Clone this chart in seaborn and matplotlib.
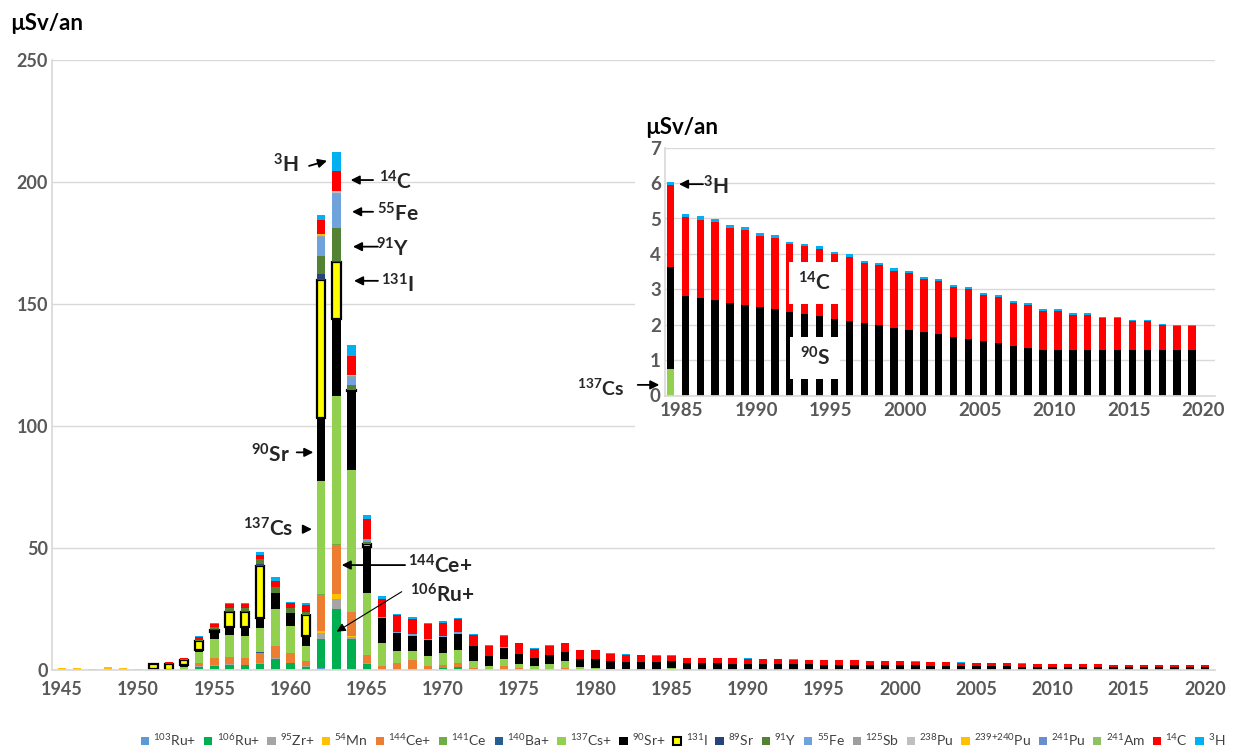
import numpy as np
import matplotlib
matplotlib.use("Agg")
import matplotlib.pyplot as plt
import matplotlib.transforms as mtransforms
from matplotlib.patches import Patch, Rectangle
import seaborn as sns

# years shown on the main chart
years = list(range(1945, 2021))

# dose by nuclide (µSv/an)
# short lists cover 1945-1984 only (nothing visible afterwards)
ru103 = [0, 0, 0, 0, 0, 0, 0, 0, 0, 0,
         0, 0, 0, 0, 0, 0, 0, 0.8, 0.5, 0.3,
         0.1, 0, 0, 0, 0, 0, 0, 0, 0, 0,
         0, 0, 0, 0, 0, 0, 0, 0, 0, 0]
ru106 = [0, 0, 0, 0, 0, 0, 0, 0, 0.1, 1.4,
         1.8, 2.2, 2.0, 2.5, 4.6, 2.8, 1.3, 12.0, 24.6, 12.5,
         2.2, 0.5, 0.5, 0.5, 0.4, 0.9, 1.1, 0.2, 0.1, 0.6,
         0.2, 0, 0, 0.2, 0, 0, 0, 0, 0, 0]
zr95 = [0.4, 0.4, 0.3, 0.5, 0.3, 0.2, 0.2, 0, 0, 0.1,
        0.2, 0.2, 0.2, 0.3, 0.3, 0.2, 0.2, 2.4, 4.1, 0.9,
        0.4, 0, 0, 0, 0, 0, 0, 0, 0, 0,
        0, 0, 0, 0, 0, 0, 0, 0, 0, 0]
mn54 = [0.3, 0.3, 0.2, 0.4, 0.3, 0.2, 0, 0, 0, 0,
        0, 0, 0, 0.1, 0.1, 0, 0, 0.7, 1.8, 0.4,
        0.2, 0, 0, 0, 0, 0, 0.1, 0.1, 0, 0,
        0, 0, 0, 0, 0, 0, 0, 0, 0, 0]
ce144 = [0, 0, 0, 0, 0, 0, 0.2, 0, 0.4, 1.4,
         2.8, 3.0, 2.8, 4.1, 4.7, 4.1, 2.3, 14.7, 20.1, 9.6,
         3.1, 1.3, 2.4, 3.4, 1.4, 1.3, 1.8, 0.5, 0.2, 1.2,
         0.8, 0.3, 0.5, 0.8, 0.2, 0.1, 0, 0, 0, 0]
ce141 = [0, 0, 0, 0, 0, 0, 0, 0, 0, 0,
         0, 0, 0, 0.1, 0, 0, 0, 0.4, 0.4, 0.1,
         0, 0, 0, 0, 0, 0, 0, 0, 0, 0,
         0, 0, 0, 0, 0, 0, 0, 0, 0, 0]
ba140 = [0, 0, 0, 0, 0, 0, 0, 0, 0, 0,
         0, 0, 0, 0.3, 0, 0, 0, 0.3, 0.3, 0.1,
         0, 0, 0, 0, 0, 0, 0, 0, 0, 0,
         0, 0, 0, 0, 0, 0, 0, 0, 0, 0]
# 137Cs runs to 1985
cs137 = [0, 0, 0, 0, 0, 0, 0, 0.2, 0.8, 4.5,
         7.9, 8.9, 8.9, 10.0, 15.5, 10.9, 6.0, 46.1, 60.6, 58.1,
         25.6, 9.2, 4.8, 3.8, 3.8, 4.7, 5.1, 2.9, 1.2, 2.7,
         1.5, 1.2, 1.8, 2.5, 1.0, 0.7, 0.5, 0.3, 0.2, 0.2,
         0.74]
sr90 = [0, 0, 0, 0, 0, 0, 0, 0, 0.6, 1.0,
        2.9, 3.5, 3.6, 4.1, 6.2, 5.5, 4.1, 25.8, 31.6, 32.3,
        18.9, 10.4, 7.4, 6.4, 6.5, 6.5, 6.8, 6.0, 4.1, 4.5,
        4.2, 3.5, 3.8, 3.8, 3.4, 3.6, 3.0, 3.0, 2.9, 2.9,
        2.90, 2.80, 2.75, 2.69, 2.62, 2.56, 2.50, 2.44, 2.37, 2.31,
        2.24, 2.17, 2.11, 2.04, 1.98, 1.91, 1.86, 1.79, 1.73, 1.66,
        1.61, 1.54, 1.47, 1.41, 1.34, 1.28, 1.28, 1.28, 1.28, 1.28,
        1.28, 1.28, 1.28, 1.28, 1.28, 1.28]
i131 = [0, 0, 0, 0, 0, 0, 2.2, 2.2, 2.4, 3.6,
        0.8, 6.1, 6.4, 21.2, 0, 0, 8.7, 56.8, 23.3, 0.3,
        1.1, 0, 0, 0, 0, 0, 0, 0, 0, 0,
        0, 0, 0, 0, 0, 0, 0, 0, 0, 0]
sr89 = [0, 0, 0, 0, 0, 0, 0, 0, 0, 0,
        0.2, 0.3, 0.3, 0.6, 0, 0, 0, 2.1, 0.3, 0.1,
        0, 0, 0, 0, 0, 0, 0, 0, 0, 0,
        0, 0, 0, 0, 0, 0, 0, 0, 0, 0]
y91 = [0, 0, 0, 0, 0, 0, 0, 0, 0.3, 0.4,
       1.1, 1.4, 1.4, 2.2, 2.7, 1.8, 1.3, 7.5, 13.7, 2.1,
       1.0, 0, 0, 0, 0, 0, 0, 0, 0, 0,
       0, 0, 0, 0, 0, 0, 0, 0, 0, 0]
fe55 = [0, 0, 0, 0, 0, 0, 0, 0, 0, 0,
        0, 0, 0, 0, 0, 0, 0, 8.0, 13.7, 3.2,
        1.0, 0.3, 0.3, 0.5, 0.5, 0.5, 0.7, 0, 0, 0.3,
        0, 0, 0, 0.1, 0, 0, 0, 0, 0, 0]
sb125 = [0, 0, 0, 0, 0, 0, 0, 0, 0, 0,
         0, 0, 0, 0, 0, 0, 0, 0.3, 0.5, 0.3,
         0.2, 0, 0, 0, 0, 0, 0, 0, 0, 0,
         0, 0, 0, 0, 0, 0, 0, 0, 0, 0]
pu238 = [0, 0, 0, 0, 0, 0, 0, 0, 0, 0,
         0, 0, 0, 0, 0, 0, 0, 0.1, 0.2, 0.1,
         0, 0, 0, 0, 0, 0, 0, 0, 0, 0,
         0, 0, 0, 0, 0, 0, 0, 0, 0, 0]
pu239 = [0.2, 0.1, 0.1, 0.3, 0.1, 0.1, 0, 0, 0, 0,
         0, 0, 0, 0, 0, 0, 0, 0.5, 0.6, 0.4,
         0, 0, 0, 0, 0, 0, 0, 0.2, 0, 0,
         0, 0, 0, 0, 0, 0, 0, 0, 0, 0]
pu241 = [0, 0, 0, 0, 0, 0, 0, 0, 0, 0,
         0, 0, 0, 0, 0, 0, 0, 0, 0.1, 0.1,
         0, 0, 0, 0, 0, 0, 0, 0, 0, 0,
         0, 0, 0, 0, 0, 0, 0, 0, 0, 0]
am241 = [0, 0, 0, 0, 0, 0, 0, 0, 0, 0,
         0, 0, 0, 0, 0, 0, 0, 0, 0.1, 0,
         0, 0, 0, 0, 0, 0, 0, 0, 0, 0,
         0, 0, 0, 0, 0, 0, 0, 0, 0, 0]
c14 = [0, 0, 0, 0, 0, 0, 0, 0.8, 0.5, 1.0,
       1.2, 1.4, 1.4, 1.6, 2.5, 2.1, 2.8, 5.8, 8.0, 7.6,
       7.9, 7.2, 7.0, 6.4, 6.1, 5.5, 5.2, 4.5, 4.1, 4.6,
       4.2, 3.8, 3.9, 3.5, 3.5, 3.7, 3.2, 3.0, 3.0, 2.7,
       2.30, 2.23, 2.22, 2.20, 2.11, 2.11, 2.00, 2.00, 1.90, 1.91,
       1.90, 1.82, 1.81, 1.71, 1.71, 1.62, 1.60, 1.50, 1.50, 1.41,
       1.40, 1.31, 1.31, 1.21, 1.22, 1.12, 1.12, 1.00, 1.00, 0.90,
       0.90, 0.82, 0.82, 0.70, 0.68, 0.68]
h3 = [0, 0, 0, 0, 0, 0, 0, 0, 0, 0.5,
      0.3, 0.4, 0.4, 1.4, 1.6, 0.4, 0.7, 2.1, 7.8, 4.5,
      1.8, 1.4, 0.7, 0.7, 0.6, 0.5, 0.7, 0.3, 0.6, 0.3,
      0.3, 0.3, 0.3, 0.2, 0.2, 0.2, 0.2, 0.2, 0.2, 0.15,
      0.09, 0.09, 0.09, 0.10, 0.10, 0.09, 0.09, 0.08, 0.08, 0.07,
      0.07, 0.07, 0.07, 0.06, 0.06, 0.06, 0.06, 0.06, 0.06, 0.05,
      0.05, 0.05, 0.05, 0.05, 0.05, 0.04, 0.04, 0.04, 0.04, 0.04,
      0.04, 0.04, 0.04, 0.04, 0.04, 0.04]

labels = [r"$^{103}$Ru+", r"$^{106}$Ru+", r"$^{95}$Zr+", r"$^{54}$Mn", r"$^{144}$Ce+",
          r"$^{141}$Ce", r"$^{140}$Ba+", r"$^{137}$Cs+", r"$^{90}$Sr+", r"$^{131}$I",
          r"$^{89}$Sr", r"$^{91}$Y", r"$^{55}$Fe", r"$^{125}$Sb", r"$^{238}$Pu",
          r"$^{239{+}240}$Pu", r"$^{241}$Pu", r"$^{241}$Am", r"$^{14}$C", r"$^{3}$H"]
colors = ["#5B9BD5", "#00B050", "#A5A5A5", "#FFC000", "#ED7D31",
          "#70AD47", "#255E91", "#92D050", "#000000", "#FFFF00",
          "#264478", "#548235", "#70A3DC", "#9E9E9E", "#BFBFBF",
          "#FFC000", "#698ED0", "#8CC168", "#FF0000", "#00B0F0"]
values = [ru103, ru106, zr95, mn54, ce144, ce141, ba140, cs137, sr90, i131,
          sr89, y91, fe55, sb125, pu238, pu239, pu241, am241, c14, h3]

sns.set_theme(style="white")
plt.rcParams["font.family"] = ["Lato", "DejaVu Sans"]
plt.rcParams["mathtext.default"] = "regular"
GREY = "#595959"
GRID = "#D9D9D9"


def draw_stack(ax, start, width):
    base = np.zeros(len(years))
    for lab, vals, col in zip(labels, values, colors):
        vals = np.asarray(vals, dtype=float)
        n = len(vals)
        if n <= start:
            continue
        h = vals[start:n]
        if lab == r"$^{131}$I":
            kw = dict(edgecolor="black", linewidth=np.where(h > 0, 1.6, 0.0))
        else:
            kw = dict(edgecolor="none", linewidth=0)
        sns.barplot(x=years[start:n], y=h, orient="x", native_scale=True,
                    errorbar=None, color=col, saturation=1, width=width,
                    bottom=base[start:n], ax=ax, **kw)
        base[start:n] += h


fig = plt.figure(figsize=(12.38, 7.49), dpi=100)

# main chart
ax = fig.add_axes([52 / 1238, 1 - 670 / 749, 1163 / 1238, 610 / 749])
draw_stack(ax, 0, 0.55)
ax.set_xlim(1944.34, 2020.66)
ax.set_ylim(0, 250)
ax.set_xticks(range(1945, 2021, 5))
ax.set_xticklabels([str(y) for y in range(1945, 2021, 5)])
ax.set_yticks(range(0, 251, 50))
ax.set_xlabel("")
ax.set_ylabel("")
ax.yaxis.grid(True, color=GRID, lw=1)
ax.set_axisbelow(True)
for s in ["top", "right"]:
    ax.spines[s].set_visible(False)
ax.spines["left"].set_color(GRID)
ax.spines["bottom"].set_color(GRID)
ax.tick_params(length=0, labelsize=13, colors=GREY)
ax.tick_params(axis="x", pad=8)
ax.tick_params(axis="y", pad=3)
for t in ax.get_xticklabels() + ax.get_yticklabels():
    t.set_fontweight("bold")

fig.text(10 / 1238, 1 - 24 / 749, "µSv/an", ha="left", va="center",
         fontsize=16, fontweight="bold", color="black")

arr = dict(arrowstyle="-|>", color="black", lw=1.3, mutation_scale=13,
           shrinkA=0, shrinkB=0)
notes = [
    (r"$^{3}$H", 1959.70, 207.0, (1961.21, 206.6), (1962.39, 208.7)),
    (r"$^{14}$C", 1966.92, 200.0, (1965.41, 200.8), (1963.94, 200.8)),
    (r"$^{55}$Fe", 1967.05, 186.9, (1965.41, 187.8), (1964.03, 187.8)),
    (r"$^{91}$Y", 1966.72, 172.5, (1965.73, 173.5), (1964.09, 173.5)),
    (r"$^{131}$I", 1966.98, 157.8, (1965.73, 159.5), (1964.16, 159.5)),
    (r"$^{90}$Sr", 1958.65, 88.1, (1960.40, 89.2), (1961.49, 89.2)),
    (r"$^{137}$Cs", 1958.52, 57.8, (1960.81, 57.7), (1961.40, 57.7)),
    (r"$^{144}$Ce+", 1969.80, 42.6, (1967.51, 43.0), (1963.35, 43.0)),
]
for txt, tx, ty, tail, head in notes:
    ax.text(tx, ty, txt, ha="center", va="center", fontsize=15, fontweight="bold")
    ax.annotate("", xy=head, xytext=tail, arrowprops=arr)
ax.text(1969.93, 30.7, r"$^{106}$Ru+", ha="center", va="center", fontsize=15, fontweight="bold")
ax.annotate("", xy=(1963.02, 15.7), xytext=(1967.29, 32.1),
            arrowprops=dict(arrowstyle="-|>", color="black", lw=0.8,
                            mutation_scale=13, shrinkA=0, shrinkB=0))

# white panel behind the inset
fig.add_artist(Rectangle((635 / 1238, 1 - 432 / 749), 603 / 1238, 324 / 749,
                         transform=fig.transFigure, facecolor="white",
                         edgecolor="none", zorder=1))

# inset 1985-2020
ins = fig.add_axes([665 / 1238, 1 - 395.5 / 749, 550 / 1238, 247.8 / 749])
ins.set_zorder(2)
draw_stack(ins, 40, 0.5)
ins.set_xlim(1984.63, 2021.54)
ins.set_ylim(0, 7)
ins.set_xticks(range(1985, 2021, 5))
ins.set_xticklabels([str(y) for y in range(1985, 2021, 5)])
ins.set_yticks(range(0, 8))
ins.set_xlabel("")
ins.set_ylabel("")
ins.yaxis.grid(True, color=GRID, lw=1)
ins.set_axisbelow(True)
for s in ["top", "right"]:
    ins.spines[s].set_visible(False)
ins.spines["left"].set_color(GRID)
ins.spines["bottom"].set_color(GRID)
ins.tick_params(length=0, labelsize=13.5, colors=GREY)
ins.tick_params(axis="x", pad=5)
ins.tick_params(axis="y", pad=3)
shift = mtransforms.ScaledTranslation(0.11, 0, fig.dpi_scale_trans)
for t in ins.get_xticklabels():
    t.set_transform(t.get_transform() + shift)
for t in ins.get_xticklabels() + ins.get_yticklabels():
    t.set_fontweight("bold")

fig.text(682 / 1238, 1 - 128 / 749, "µSv/an", ha="center", va="center",
         fontsize=16, fontweight="bold", color="black")

ins.text(1988.05, 5.89, r"$^{3}$H", ha="center", va="center", fontsize=15, fontweight="bold")
ins.annotate("", xy=(1985.57, 5.97), xytext=(1987.18, 5.97), arrowprops=arr)
ins.text(1980.34, 0.21, r"$^{137}$Cs", ha="center", va="center", fontsize=14,
         fontweight="bold", clip_on=False)
ins.annotate("", xy=(1984.25, 0.30), xytext=(1982.8, 0.30), arrowprops=arr,
             annotation_clip=False)
box = dict(boxstyle="square,pad=0.45", facecolor="white", edgecolor="none")
ins.text(1994.7, 3.18, r"$^{14}$C", ha="center", va="center", fontsize=15,
         fontweight="bold", bbox=box)
ins.text(1994.7, 1.06, r"$^{90}$S", ha="center", va="center", fontsize=15,
         fontweight="bold", bbox=box)

# legend along the bottom
handles = []
for lab, col in zip(labels, colors):
    if lab == r"$^{131}$I":
        handles.append(Patch(facecolor=col, edgecolor="black", linewidth=1.5, label=lab))
    else:
        handles.append(Patch(facecolor=col, edgecolor="none", label=lab))
fig.legend(handles=handles, loc="center", bbox_to_anchor=(683 / 1238, 1 - 740 / 749),
           ncol=20, frameon=False, fontsize=10, handlelength=0.6, handleheight=0.6,
           handletextpad=0.3, columnspacing=0.55, labelcolor="#404040",
           borderaxespad=0, borderpad=0)

fig.savefig("out.png", dpi=100)
